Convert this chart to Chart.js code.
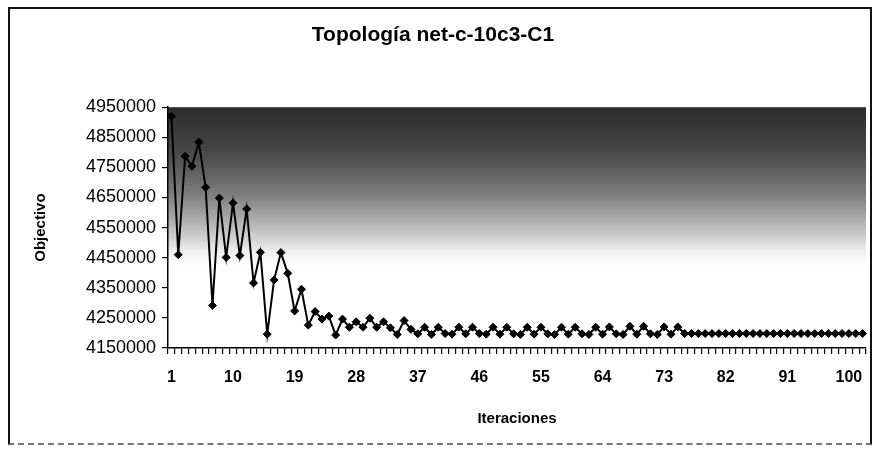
<!DOCTYPE html>
<html>
<head>
<meta charset="utf-8">
<script src="https://cdn.jsdelivr.net/npm/chart.js@4/dist/chart.umd.min.js"></script>
<style>
  html, body { margin: 0; padding: 0; background: #fff; }
  #wrap { position: relative; width: 880px; height: 453px; }
  #frame { position: absolute; left: 8px; top: 7px; width: 864px; height: 438px;
           border-left: 2px solid #111; border-top: 2px solid #111; border-right: 2px solid #111;
           border-bottom: 2px dashed #777; box-sizing: border-box; pointer-events: none; }
  canvas { position: absolute; left: 0; top: 0; }
</style>
</head>
<body>
<div id="wrap">
  <canvas id="c" width="880" height="453"></canvas>
  <div id="frame"></div>
</div>
<script>
const iterations = [1,2,3,4,5,6,7,8,9,10,11,12,13,14,15,16,17,18,19,20,
  21,22,23,24,25,26,27,28,29,30,31,32,33,34,35,36,37,38,39,40,
  41,42,43,44,45,46,47,48,49,50,51,52,53,54,55,56,57,58,59,60,
  61,62,63,64,65,66,67,68,69,70,71,72,73,74,75,76,77,78,79,80,
  81,82,83,84,85,86,87,88,89,90,91,92,93,94,95,96,97,98,99,100,101,102];

const objetivo = [
  4920000, 4460000, 4787000, 4754000, 4834000, 4684000, 4291000, 4648000, 4451000, 4632000,
  4457000, 4612000, 4366000, 4468000, 4196000, 4376000, 4467000, 4398000, 4273000, 4345000,
  4226000, 4271000, 4246000, 4256000, 4193000, 4246000, 4219000, 4237000, 4219000, 4249000,
  4219000, 4237000, 4217000, 4195000, 4241000, 4212000, 4197000, 4219000, 4195000, 4219000,
  4198000, 4196000, 4219000, 4197000, 4219000, 4198000, 4196000, 4219000, 4196000, 4219000,
  4197000, 4195000, 4219000, 4196000, 4219000, 4197000, 4195000, 4219000, 4196000, 4219000,
  4197000, 4195000, 4219000, 4196000, 4220000, 4197000, 4195000, 4222000, 4196000, 4222000,
  4197000, 4195000, 4220000, 4196000, 4220000, 4198000, 4198000, 4198000, 4198000, 4198000,
  4198000, 4198000, 4198000, 4198000, 4198000, 4198000, 4198000, 4198000, 4198000, 4198000,
  4198000, 4198000, 4198000, 4198000, 4198000, 4198000, 4198000, 4198000, 4198000, 4198000,
  4198000, 4198000
];

const xTickLabels = [1, 10, 19, 28, 37, 46, 55, 64, 73, 82, 91, 100];
const yMin = 4150000, yMax = 4950000, yStep = 100000;

const plotBg = {
  id: 'plotBg',
  beforeDraw(chart) {
    const {ctx, chartArea: a} = chart;
    const g = ctx.createLinearGradient(0, a.top, 0, a.bottom);
    g.addColorStop(0, '#2c2c2c');
    g.addColorStop(0.18, '#464646');
    g.addColorStop(0.36, '#7c7c7c');
    g.addColorStop(0.5, '#bcbcbc');
    g.addColorStop(0.6, '#eeeeee');
    g.addColorStop(0.66, '#ffffff');
    g.addColorStop(1, '#ffffff');
    ctx.save();
    ctx.fillStyle = g;
    ctx.fillRect(a.left, a.top, a.right - a.left, a.bottom - a.top);
    ctx.restore();
  }
};

const FONT = "'Liberation Sans', Arial, sans-serif";

new Chart(document.getElementById('c'), {
  type: 'line',
  data: {
    labels: iterations,
    datasets: [{
      data: objetivo,
      borderColor: '#000',
      backgroundColor: '#000',
      borderWidth: 2,
      pointStyle: 'rectRot',
      pointRadius: 4,
      pointBorderWidth: 1,
      tension: 0,
      fill: false
    }]
  },
  options: {
    responsive: false,
    animation: false,
    layout: { padding: { left: 0, right: 14, top: 0, bottom: 21 } },
    plugins: {
      legend: { display: false },
      tooltip: { enabled: false },
      title: {
        display: true,
        text: 'Topología net-c-10c3-C1',
        color: '#000',
        font: { family: FONT, size: 21, weight: 'bold' },
        padding: { top: 23, bottom: 59 }
      }
    },
    scales: {
      x: {
        type: 'category',
        offset: true,
        border: { display: true, color: '#000', width: 1.5 },
        grid: { display: true, drawOnChartArea: false, offset: true, color: '#000', tickLength: 6, lineWidth: 1.2 },
        ticks: {
          autoSkip: false, maxRotation: 0, minRotation: 0, color: '#000', padding: 14,
          font: { family: FONT, size: 16, weight: 'bold' },
          callback(value, index) {
            const lab = iterations[index];
            return xTickLabels.includes(lab) ? String(lab) : '';
          }
        },
        title: { display: true, text: 'Iteraciones', color: '#000',
                 font: { family: FONT, size: 15, weight: 'bold' }, padding: { top: 8 } },
        afterFit(scale) { scale.height = 84; }
      },
      y: {
        min: yMin, max: yMax,
        border: { display: true, color: '#000', width: 1.5 },
        grid: { display: true, drawOnChartArea: false, color: '#000', tickLength: 6, lineWidth: 1.2 },
        ticks: { stepSize: yStep, color: '#000', padding: 6,
                 font: { family: FONT, size: 18 },
                 callback(value) { return String(value); } },
        title: { display: true, text: 'Objectivo', color: '#000',
                 font: { family: FONT, size: 15, weight: 'bold' }, padding: { top: 32, bottom: 0 } },
        afterFit(scale) { scale.width = 168; }
      }
    }
  },
  plugins: [plotBg]
});
</script>
</body>
</html>
